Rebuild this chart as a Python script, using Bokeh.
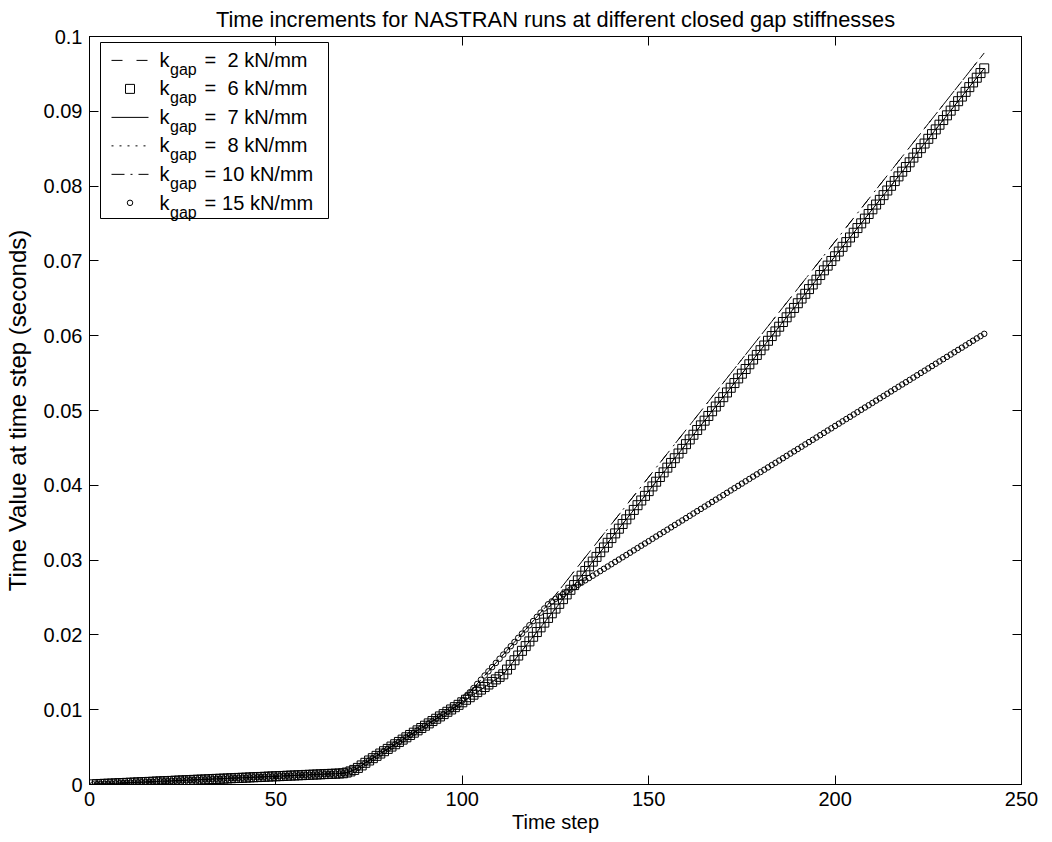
import numpy as np
from bokeh.plotting import figure
from bokeh.models import (LinearAxis, FixedTicker, CustomJSTickFormatter, Label,
                          BoxAnnotation, Range1d)
from bokeh.embed import file_html
from bokeh.resources import INLINE

# ---------------- data (time values in units of 1e-5 s) ----------------
steps = list(range(1, 241))

# steps 1..99, shared by all runs
t_common = [2, 4, 7, 9, 11, 13, 15, 18, 20, 22,
            24, 26, 29, 31, 33, 35, 37, 40, 42, 44,
            46, 48, 51, 53, 55, 57, 59, 62, 64, 66,
            68, 70, 73, 75, 77, 79, 81, 84, 86, 88,
            90, 92, 95, 97, 99, 101, 103, 106, 108, 110,
            112, 114, 117, 119, 121, 123, 125, 128, 130, 132,
            134, 136, 139, 141, 143, 145, 147, 150, 160, 175,
            195, 222, 255, 290, 321, 352, 383, 414, 445, 476,
            507, 538, 569, 600, 631, 662, 693, 724, 755, 786,
            817, 848, 879, 910, 941, 972, 1003, 1034, 1065]

# steps 100..240, k_gap = 6, 7, 8 kN/mm
t_mid_tail = [1099, 1133, 1167, 1201, 1235, 1269, 1303, 1337, 1371, 1405, 1439, 1473,
              1536, 1599, 1661, 1724,
              1787, 1850, 1913, 1975, 2038, 2101, 2164, 2227, 2289, 2352,
              2415, 2478, 2541, 2603, 2666, 2729, 2792, 2855, 2917, 2980,
              3043, 3106, 3169, 3231, 3294, 3357, 3420, 3483, 3545, 3608,
              3671, 3734, 3797, 3859, 3922, 3985, 4048, 4111, 4173, 4236,
              4299, 4362, 4425, 4487, 4550, 4613, 4676, 4739, 4801, 4864,
              4927, 4990, 5053, 5115, 5178, 5241, 5304, 5367, 5429, 5492,
              5555, 5618, 5681, 5743, 5806, 5869, 5932, 5995, 6057, 6120,
              6183, 6246, 6309, 6371, 6434, 6497, 6560, 6623, 6685, 6748,
              6811, 6874, 6937, 6999, 7062, 7125, 7188, 7251, 7313, 7376,
              7439, 7502, 7565, 7627, 7690, 7753, 7816, 7879, 7941, 8004,
              8067, 8130, 8193, 8255, 8318, 8381, 8444, 8507, 8569, 8632,
              8695, 8758, 8821, 8883, 8946, 9009, 9072, 9135, 9197, 9260,
              9323, 9386, 9449, 9511, 9574]

# steps 100..240, k_gap = 2, 10 kN/mm
t_fast_tail = [1121, 1177, 1233, 1289, 1345, 1401, 1457, 1513, 1569, 1625,
               1681, 1737, 1793, 1849, 1905, 1961, 2017, 2073, 2129, 2185,
               2241, 2297, 2353, 2409,
               2472, 2535, 2598, 2661, 2724, 2787, 2850, 2913, 2976, 3039,
               3102, 3165, 3228, 3291, 3354, 3417, 3480, 3543, 3606, 3669,
               3732, 3795, 3858, 3921, 3984, 4047, 4110, 4173, 4236, 4299,
               4362, 4425, 4488, 4551, 4614, 4677, 4740, 4803, 4866, 4929,
               4992, 5055, 5118, 5181, 5244, 5307, 5370, 5433, 5496, 5559,
               5622, 5685, 5748, 5811, 5874, 5937, 6000, 6063, 6126, 6189,
               6252, 6315, 6378, 6441, 6504, 6567, 6630, 6693, 6756, 6819,
               6882, 6945, 7008, 7071, 7134, 7197, 7260, 7323, 7386, 7449,
               7512, 7575, 7638, 7701, 7764, 7827, 7890, 7953, 8016, 8079,
               8142, 8205, 8268, 8331, 8394, 8457, 8520, 8583, 8646, 8709,
               8772, 8835, 8898, 8961, 9024, 9087, 9150, 9213, 9276, 9339,
               9402, 9465, 9528, 9591, 9654, 9717, 9780]

# steps 100..240, k_gap = 15 kN/mm
t_k15_tail = [1121, 1177, 1233, 1289, 1345, 1401, 1457, 1513, 1569, 1625,
              1681, 1737, 1793, 1849, 1905, 1961, 2017, 2073, 2129, 2185,
              2241, 2297, 2353, 2409, 2448, 2482,
              2514, 2545, 2576, 2606, 2637, 2668, 2699, 2730, 2760, 2791,
              2822, 2853, 2884, 2914, 2945, 2976, 3007, 3038, 3068, 3099,
              3130, 3161, 3192, 3222, 3253, 3284, 3315, 3346, 3376, 3407,
              3438, 3469, 3500, 3530, 3561, 3592, 3623, 3654, 3684, 3715,
              3746, 3777, 3808, 3838, 3869, 3900, 3931, 3962, 3992, 4023,
              4054, 4085, 4116, 4146, 4177, 4208, 4239, 4270, 4300, 4331,
              4362, 4393, 4424, 4454, 4485, 4516, 4547, 4578, 4608, 4639,
              4670, 4701, 4732, 4762, 4793, 4824, 4855, 4886, 4916, 4947,
              4978, 5009, 5040, 5070, 5101, 5132, 5163, 5194, 5224, 5255,
              5286, 5317, 5348, 5378, 5409, 5440, 5471, 5502, 5532, 5563,
              5594, 5625, 5656, 5686, 5717, 5748, 5779, 5810, 5840, 5871,
              5902, 5933, 5964, 5994, 6025]

k_gap_values = ["2", "6", "7", "8", "10", "15"]
x_ticks = [0, 50, 100, 150, 200, 250]
y_ticks = [0, 0.01, 0.02, 0.03, 0.04, 0.05, 0.06, 0.07, 0.08, 0.09, 0.1]

TITLE = "Time increments for NASTRAN runs at different closed gap stiffnesses"
XLABEL = "Time step"
YLABEL = "Time Value at time step (seconds)"

UNIT = 1e-5
t_k2 = np.array(t_common + t_fast_tail) * UNIT
t_k6 = np.array(t_common + t_mid_tail) * UNIT
t_k7 = np.array(t_common + t_mid_tail) * UNIT
t_k8 = np.array(t_common + t_mid_tail) * UNIT
t_k10 = np.array(t_common + t_fast_tail) * UNIT
t_k15 = np.array(t_common + t_k15_tail) * UNIT

# ---------------- layout / style ----------------
FONT = "Liberation Sans"
X0, X1 = 0, 250
Y0, Y1 = 0, 0.1
W, H = 1052, 842
FL, FT = 89, 33          # position of the frame's top-left corner
FW, FH = 932, 751        # frame size

def sx(px):  # page x -> frame screen units
    return px - FL

def sy(py):  # page y -> frame screen units (from frame bottom)
    return FT + FH - py

def dx(px):
    return X0 + (px - FL) / FW * (X1 - X0)

def dy(py):
    return Y0 + (FT + FH - py) / FH * (Y1 - Y0)

p = figure(width=W, height=H, x_range=Range1d(X0, X1), y_range=Range1d(Y0, Y1),
           output_backend="svg", toolbar_location=None,
           min_border_left=FL, min_border_right=W - FL - FW, min_border_top=FT,
           min_border_bottom=H - FT - FH)
p.xgrid.visible = False
p.ygrid.visible = False
p.outline_line_color = "black"
p.outline_line_width = 1
p.background_fill_color = "white"
p.border_fill_color = "white"

p.title.text = TITLE
p.title.text_font = FONT
p.title.text_font_size = "21.8px"
p.title.text_font_style = "normal"
p.title.text_color = "black"
p.title.align = "center"
p.title.standoff = 9

def style_axis(ax, ticks):
    ax.ticker = FixedTicker(ticks=ticks)
    ax.minor_tick_line_color = None
    ax.major_tick_in = 9
    ax.major_tick_out = 0
    ax.major_tick_line_color = "black"
    ax.axis_line_color = "black"
    ax.major_label_text_font = FONT
    ax.major_label_text_font_size = "20px"
    ax.major_label_text_color = "black"
    ax.axis_label_text_font = FONT
    ax.axis_label_text_font_size = "20px"
    ax.axis_label_text_font_style = "normal"
    ax.axis_label_text_color = "black"

xa = p.xaxis[0]
style_axis(xa, x_ticks)
xa.major_label_standoff = 7
xa.axis_label = XLABEL
xa.axis_label_standoff = 2
ya = p.yaxis[0]
style_axis(ya, y_ticks)
ya.major_label_standoff = 7
ya.axis_label = YLABEL
ya.axis_label_text_font_size = "24px"
ya.axis_label_standoff = 10
ya.formatter = CustomJSTickFormatter(code="return String(Math.round(tick * 100) / 100);")

for loc, ticks in (("above", x_ticks), ("right", y_ticks)):
    ax = LinearAxis()
    style_axis(ax, ticks)
    ax.formatter = CustomJSTickFormatter(code="return '';")
    ax.major_label_text_font_size = "1px"
    ax.major_label_standoff = 0
    p.add_layout(ax, loc)

# ---------------- data marks ----------------
BLACK = "black"
styles = [
    dict(kind="line", dash="11 14"),
    dict(kind="square"),
    dict(kind="line", dash="solid"),
    dict(kind="line", dash="2 6"),
    dict(kind="line", dash="13 6 2 6"),
    dict(kind="circle"),
]
series = [t_k2, t_k6, t_k7, t_k8, t_k10, t_k15]

def draw(xs, ys, st):
    if st["kind"] == "line":
        p.line(xs, ys, line_color=BLACK, line_width=1, line_dash=st["dash"])
    elif st["kind"] == "square":
        p.scatter(xs, ys, marker="square", size=9, fill_color=None,
                  line_color=BLACK, line_width=1)
    else:
        p.scatter(xs, ys, marker="circle", size=5.5, fill_color=None,
                  line_color=BLACK, line_width=1)

for ys, st in zip(series, styles):
    draw(steps, ys, st)

# ---------------- legend (drawn by hand for the subscripted labels) ----------------
LEG_L, LEG_R, LEG_T = 100, 328, 42
PITCH = 28.6
LEG_B = LEG_T + 176
box = BoxAnnotation(left=sx(LEG_L), right=sx(LEG_R), top=sy(LEG_T), bottom=sy(LEG_B),
                    left_units="screen", right_units="screen",
                    top_units="screen", bottom_units="screen",
                    fill_color="white", fill_alpha=1.0, line_color=BLACK,
                    line_width=1, line_alpha=1.0, level="underlay")
p.add_layout(box)

for i, (v, st) in enumerate(zip(k_gap_values, styles)):
    row = LEG_T + i * PITCH
    sample_y = row + 15
    base = row + 17
    if st["kind"] == "line":
        p.line([dx(111), dx(148)], [dy(sample_y), dy(sample_y)], line_color=BLACK,
               line_width=1, line_dash=st["dash"])
    else:
        draw([dx(129.5)], [dy(sample_y)], st)
    p.add_layout(Label(x=sx(159), y=sy(base), x_units="screen", y_units="screen",
                       text="k", text_font=FONT, text_font_size="20px",
                       text_color=BLACK, text_baseline="alphabetic"))
    p.add_layout(Label(x=sx(169.5), y=sy(base + 9.5), x_units="screen", y_units="screen",
                       text="gap", text_font=FONT, text_font_size="16px",
                       text_color=BLACK, text_baseline="alphabetic"))
    p.add_layout(Label(x=sx(204), y=sy(base), x_units="screen", y_units="screen",
                       text="=", text_font=FONT, text_font_size="20px",
                       text_color=BLACK, text_baseline="alphabetic"))
    vx = 227 if len(v) == 1 else 221.6
    p.add_layout(Label(x=sx(vx), y=sy(base), x_units="screen", y_units="screen",
                       text=f"{v} kN/mm", text_font=FONT, text_font_size="20px",
                       text_color=BLACK, text_baseline="alphabetic"))

open("out.html", "w").write(file_html(p, INLINE))
